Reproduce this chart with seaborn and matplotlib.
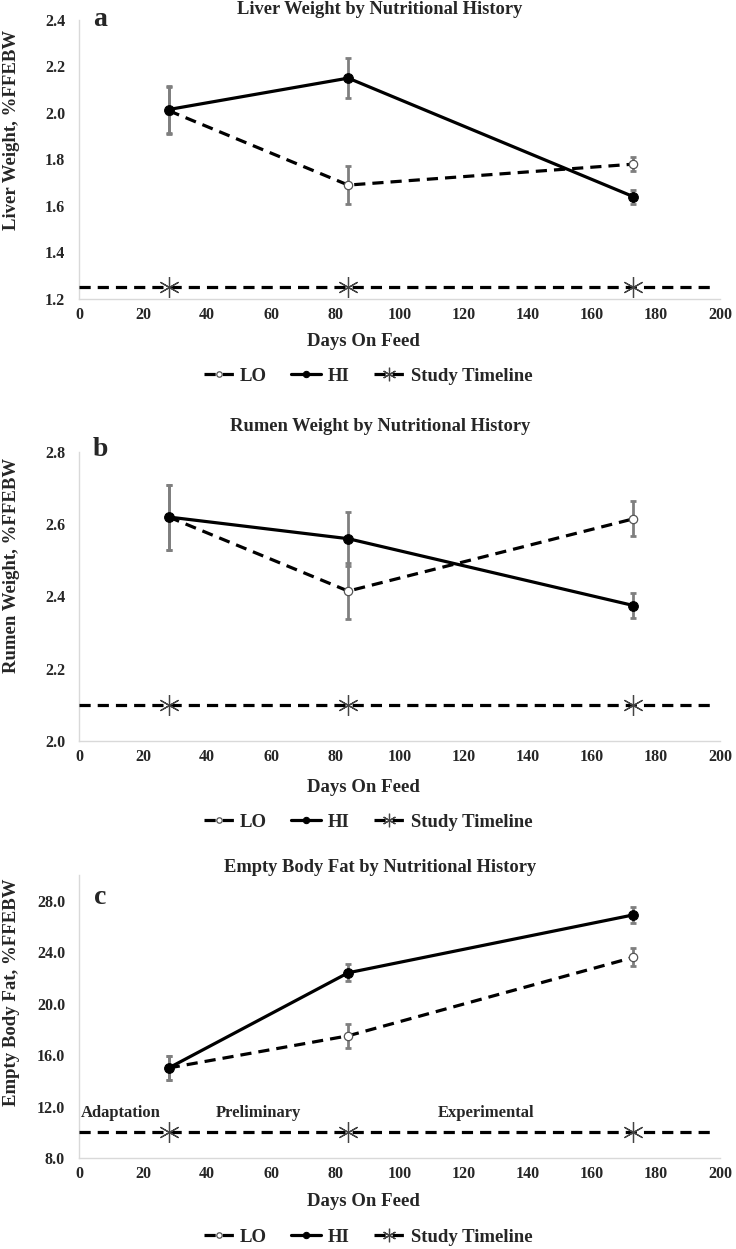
import matplotlib
matplotlib.use('Agg')
import matplotlib.pyplot as plt
import seaborn as sns
import pandas as pd

# data
days = [28, 84, 173]

liver_lo = [2.01, 1.69, 1.78]
liver_lo_err = [0.10, 0.08, 0.03]
liver_hi = [2.015, 2.15, 1.64]
liver_hi_err = [0.10, 0.085, 0.03]

rumen_lo = [2.62, 2.415, 2.615]
rumen_lo_err = [0.09, 0.077, 0.048]
rumen_hi = [2.62, 2.56, 2.375]
rumen_hi_err = [0.09, 0.075, 0.035]

fat_lo = [15.0, 17.5, 23.6]
fat_lo_err = [0.95, 0.95, 0.7]
fat_hi = [15.0, 22.4, 26.9]
fat_hi_err = [0.95, 0.65, 0.6]

timeline_days = [0, 28, 84, 173, 197]
timeline_levels = [1.25, 2.1, 10.0]

phase_labels = ['Adaptation', 'Preliminary', 'Experimental']
phase_x = [13, 56, 127]
phase_y = 11.5

titles = ['Liver Weight by Nutritional History',
          'Rumen Weight by Nutritional History',
          'Empty Body Fat by Nutritional History']
ylabels = ['Liver Weight, %FFEBW', 'Rumen Weight, %FFEBW', 'Empty Body Fat, %FFEBW']
letters = ['a', 'b', 'c']
ylims = [(1.2, 2.4), (2.0, 2.8), (8, 30)]
yticks = [[1.2, 1.4, 1.6, 1.8, 2.0, 2.2, 2.4],
          [2.0, 2.2, 2.4, 2.6, 2.8],
          [8, 12, 16, 20, 24, 28]]

W, H = 736, 1249
sns.set_style('white')
plt.rcParams['font.family'] = ['Liberation Serif', 'DejaVu Serif']
plt.rcParams['font.weight'] = 'bold'

fig = plt.figure(figsize=(W / 100, H / 100), dpi=100)

def px(x, y):
    return x / W, 1 - y / H

# pixel boxes: (top, bottom) of each axes
boxes = [(20, 299), (452, 741), (875, 1158)]
title_y = [10, 426, 867]
xlabel_y = [341, 787, 1202]
legend_y = [376, 822, 1237]
letter_y = [20, 449, 898]
ylabel_y = [130, 565, 992]

series = [(liver_lo, liver_lo_err, liver_hi, liver_hi_err),
          (rumen_lo, rumen_lo_err, rumen_hi, rumen_hi_err),
          (fat_lo, fat_lo_err, fat_hi, fat_hi_err)]

grey_err = '#7f7f7f'
for i in range(3):
    top, bot = boxes[i]
    l, b = px(79, bot)
    ax = fig.add_axes([l, b, (720 - 79) / W, (bot - top) / H])
    lo, lo_err, hi, hi_err = series[i]

    ax.errorbar(days, hi, yerr=hi_err, fmt='none', ecolor=grey_err, elinewidth=2,
                capsize=2.5, capthick=2, zorder=2)
    ax.errorbar(days, lo, yerr=lo_err, fmt='none', ecolor=grey_err, elinewidth=2,
                capsize=2.5, capthick=2, zorder=2)

    df = pd.DataFrame({'day': days, 'lo': lo, 'hi': hi})
    sns.lineplot(data=df, x='day', y='lo', ax=ax, color='black', lw=2.3,
                 linestyle=(0, (3.5, 2.2)), marker='o', markersize=6,
                 markerfacecolor='white', markeredgecolor='#555555', markeredgewidth=0.9,
                 label='LO', zorder=3)
    sns.lineplot(data=df, x='day', y='hi', ax=ax, color='black', lw=2.3,
                 marker='o', markersize=7, markerfacecolor='black', markeredgecolor='black',
                 label='HI', zorder=4)
    tl = pd.DataFrame({'day': timeline_days, 'y': [timeline_levels[i]] * len(timeline_days)})
    sns.lineplot(data=tl, x='day', y='y', ax=ax, color='black', lw=2.3,
                 linestyle=(0, (3.5, 2.2)), marker=(6, 2, 0), markersize=15,
                 markeredgecolor='#444444', markeredgewidth=0.9, markevery=[1, 2, 3],
                 label='Study Timeline', zorder=3)

    ax.set_xlim(0, 200)
    ax.set_xticks(range(0, 201, 20))
    ax.set_ylim(*ylims[i])
    ax.set_yticks(yticks[i])
    ax.set_yticklabels([f'{v:.1f}' for v in yticks[i]])
    ax.tick_params(axis='both', length=0, labelsize=11.5)
    ax.tick_params(axis='y', pad=10)
    ax.tick_params(axis='x', pad=6)
    for lab in ax.get_xticklabels() + ax.get_yticklabels():
        lab.set_fontweight('bold')
    ax.set_xlabel('')
    ax.set_ylabel('')
    for s in ['top', 'right']:
        ax.spines[s].set_visible(False)
    for s in ['left', 'bottom']:
        ax.spines[s].set_color('#d9d9d9')
        ax.spines[s].set_linewidth(1)

    handles, labels = ax.get_legend_handles_labels()
    ax.get_legend().remove()

    x, y = px(380, title_y[i])
    fig.text(x, y, titles[i], ha='center', va='center', fontsize=13.3, fontweight='bold')
    x, y = px(363, xlabel_y[i])
    fig.text(x, y, 'Days On Feed', ha='center', va='center', fontsize=13.5, fontweight='bold')
    x, y = px(100, letter_y[i])
    fig.text(x, y, letters[i], ha='center', va='center', fontsize=20, fontweight='bold')
    x, y = px(12, ylabel_y[i])
    fig.text(x, y, ylabels[i], ha='center', va='center', rotation=90, fontsize=13.5,
             fontweight='bold')
    x, y = px(368, legend_y[i])
    fig.legend(handles, labels, loc='center', bbox_to_anchor=(x, y), ncol=3, frameon=False,
               handlelength=1.6, handletextpad=0.35, columnspacing=1.3, markerscale=0.65,
               prop={'weight': 'bold', 'size': 13.5})

    if i == 2:
        for name, xp in zip(phase_labels, phase_x):
            ax.text(xp, phase_y, name, ha='center', va='center', fontsize=12,
                    fontweight='bold')

fig.savefig('out.png', dpi=100)
